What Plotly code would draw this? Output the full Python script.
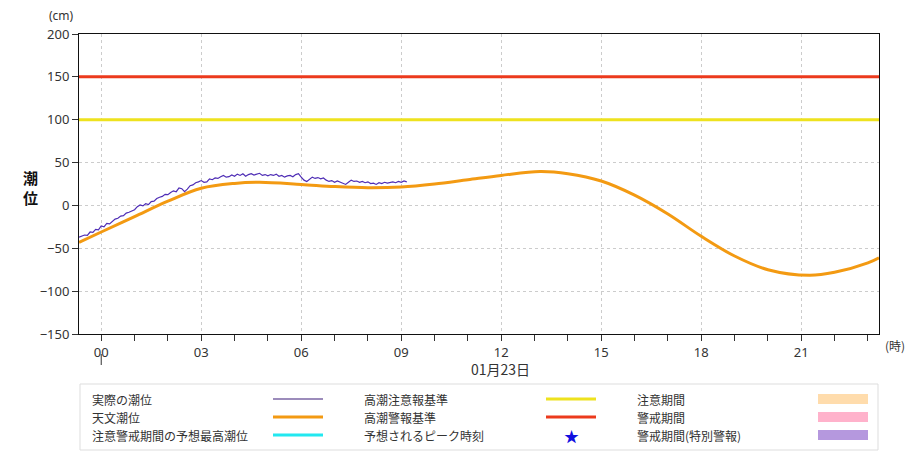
import plotly.graph_objects as go
import pandas as pd

# ---------------- data ----------------
# observed tide (cm), every 5 minutes from 2025-01-22 23:20
obs_start = "2025-01-22 23:20"
obs_cm = [
    -37, -36, -34.5, -35, -31, -31.5, -28, -28.5, -24, -25,
    -21, -21.5, -18.5, -16, -15, -12.5, -12, -9, -8, -6,
    -5, -1.5, 0.5, -0.5, 2, 1, 4.5, 5, 8, 9.5,
    10.5, 13, 12.5, 15, 17, 16, 20.5, 19.5, 16, 19,
    23, 24, 26.5, 27.5, 29, 27, 27.5, 31, 30, 32,
    31.5, 33.5, 35, 33, 33.5, 35.5, 34, 36.5, 35, 37,
    34, 36, 37, 35.5, 36.5, 37.5, 35, 36, 34.5, 36,
    35, 36.5, 34, 35, 33, 34.5, 35, 33.5, 36, 37,
    33, 29.5, 28, 31, 33, 31.5, 32.5, 31, 32, 29.5,
    28, 29, 27, 28.5, 27, 25.5, 24.5, 27, 29.5, 28,
    28.5, 27, 28, 26.5, 27.5, 25.5, 26, 24.5, 26.5, 25.5,
    27, 26, 26.5, 27.5, 26.5, 28, 27, 28.5, 27.5,
]

# astronomical tide (cm)
astro_time = [
    "2025-01-22 23:20", "2025-01-23 00:00", "2025-01-23 01:00", "2025-01-23 02:00",
    "2025-01-23 03:00", "2025-01-23 04:00", "2025-01-23 04:45", "2025-01-23 06:00",
    "2025-01-23 07:00", "2025-01-23 08:00", "2025-01-23 09:00", "2025-01-23 10:00",
    "2025-01-23 11:00", "2025-01-23 12:00", "2025-01-23 13:10", "2025-01-23 14:00",
    "2025-01-23 15:00", "2025-01-23 16:00", "2025-01-23 17:00", "2025-01-23 18:00",
    "2025-01-23 19:00", "2025-01-23 20:00", "2025-01-23 21:15", "2025-01-23 22:00",
    "2025-01-23 23:00", "2025-01-23 23:20",
]
astro_cm = [
    -43, -31, -13, 5,
    20, 25.7, 27, 24.5,
    22, 20.6, 21.5, 25,
    30, 35, 39.5, 37,
    28.5, 12, -10, -36,
    -59, -75, -81.5, -78,
    -67, -61,
]

x_start = "2025-01-22 23:20"
x_end = "2025-01-23 23:20"
caution_level = 100   # 高潮注意報基準
warning_level = 150   # 高潮警報基準

legend_rows = [
    ["実際の潮位", "高潮注意報基準", "注意期間"],
    ["天文潮位", "高潮警報基準", "警戒期間"],
    ["注意警戒期間の予想最高潮位", "予想されるピーク時刻", "警戒期間(特別警報)"],
]
date_label = "01月23日"

# ---------------- figure ----------------
obs_time = pd.date_range(obs_start, periods=len(obs_cm), freq="5min")

OBS_C = "#4e2db5"
OBS_LEG_C = "#3a1a78"
ASTRO_C = "#f39a12"
CAUTION_C = "#eee21e"
WARN_C = "#ec3a1c"
CYAN_C = "#22e8f0"
FONT = "Noto Sans CJK JP, sans-serif"
NUMFONT = "Noto Sans, sans-serif"
TXT = "#333333"

fig = go.Figure()
fig.add_trace(go.Scatter(x=[x_start, x_end], y=[warning_level] * 2, mode="lines",
                         line=dict(color=WARN_C, width=3), hoverinfo="skip"))
fig.add_trace(go.Scatter(x=[x_start, x_end], y=[caution_level] * 2, mode="lines",
                         line=dict(color=CAUTION_C, width=3), hoverinfo="skip"))
fig.add_trace(go.Scatter(x=astro_time, y=astro_cm, mode="lines",
                         line=dict(color=ASTRO_C, width=3, shape="spline", smoothing=1.0)))
fig.add_trace(go.Scatter(x=obs_time, y=obs_cm, mode="lines",
                         line=dict(color=OBS_C, width=1.2)))

L, R, T, B = 79, 34, 34, 129
W, H = 913, 463
PW, PH = W - L - R, H - T - B


def xp(px):
    return (px - L) / PW


def yp(py):
    return (T + PH - py) / PH


shapes = []
annots = []

# legend box
shapes.append(dict(type="rect", xref="paper", yref="paper",
                   x0=xp(80), x1=xp(878), y0=yp(384), y1=yp(450),
                   line=dict(color="#dddddd", width=1), fillcolor="white"))
row_y = [399, 417, 435]
col_text_x = [90, 362, 635]
samples_col1 = [(OBS_LEG_C, 1.2), (ASTRO_C, 3), (CYAN_C, 3)]
samples_col2 = [(CAUTION_C, 3), (WARN_C, 3), None]
patch_cols = ["#ffdcac", "#ffb2cb", "#b598de"]
for i, ry in enumerate(row_y):
    for j, txt in enumerate(legend_rows[i]):
        annots.append(dict(xref="paper", yref="paper", x=xp(col_text_x[j]), y=yp(ry),
                           text=txt, showarrow=False, xanchor="left", yanchor="middle",
                           font=dict(family=FONT, size=12, color=TXT)))
    c, w = samples_col1[i]
    shapes.append(dict(type="line", xref="paper", yref="paper", x0=xp(273), x1=xp(323),
                       y0=yp(ry), y1=yp(ry), line=dict(color=c, width=w)))
    if samples_col2[i] is not None:
        c, w = samples_col2[i]
        shapes.append(dict(type="line", xref="paper", yref="paper", x0=xp(546), x1=xp(596),
                           y0=yp(ry), y1=yp(ry), line=dict(color=c, width=w)))
    shapes.append(dict(type="rect", xref="paper", yref="paper", x0=xp(818), x1=xp(868),
                       y0=yp(ry - 5), y1=yp(ry + 5), line=dict(width=0),
                       fillcolor=patch_cols[i]))
annots.append(dict(xref="paper", yref="paper", x=xp(571), y=yp(435), text="★",
                   showarrow=False, xanchor="center", yanchor="middle",
                   font=dict(family=FONT, size=15, color="#1010e0")))

# axis labels
annots.append(dict(xref="paper", yref="paper", x=xp(61), y=yp(16), text="(cm)",
                   showarrow=False, xanchor="center", yanchor="middle",
                   font=dict(family=NUMFONT, size=12, color=TXT)))
annots.append(dict(xref="paper", yref="paper", x=xp(895), y=yp(345), text="(時)",
                   showarrow=False, xanchor="center", yanchor="middle",
                   font=dict(family=FONT, size=12, color=TXT)))
annots.append(dict(xref="paper", yref="paper", x=xp(30), y=yp(187), text="<b>潮<br>位</b>",
                   showarrow=False, xanchor="center", yanchor="middle",
                   font=dict(family=FONT, size=15, color="#111111")))
annots.append(dict(xref="paper", yref="paper", x=xp(500), y=yp(369), text=date_label,
                   showarrow=False, xanchor="center", yanchor="middle",
                   font=dict(family=FONT, size=14, color=TXT)))
# day marker under 00
shapes.append(dict(type="line", xref="x", yref="paper", x0="2025-01-23 00:00",
                   x1="2025-01-23 00:00", y0=yp(354), y1=yp(365),
                   line=dict(color="#333333", width=1)))

fig.update_layout(
    width=W, height=H,
    margin=dict(l=L, r=R, t=T, b=B),
    paper_bgcolor="white", plot_bgcolor="white",
    showlegend=False,
    shapes=shapes, annotations=annots,
    font=dict(family=FONT, size=13, color=TXT),
)
fig.update_xaxes(
    range=[x_start, x_end], type="date",
    tick0="2025-01-23 00:00", dtick=3 * 3600000, tickformat="%H",
    ticks="outside", ticklen=6, tickcolor="#333333",
    showline=True, linecolor="#111111", linewidth=1, mirror=True,
    showgrid=True, gridcolor="#cccccc", griddash="3px,3px",
    minor=dict(dtick=3600000, ticks="outside", ticklen=6, tickcolor="#333333", showgrid=False),
    tickfont=dict(family=NUMFONT, size=13, color=TXT),
    zeroline=False,
)
fig.update_yaxes(
    range=[-150, 200], dtick=50,
    ticks="outside", ticklen=6, tickcolor="#333333",
    showline=True, linecolor="#111111", linewidth=1, mirror=True,
    showgrid=True, gridcolor="#cccccc", griddash="3px,3px",
    tickfont=dict(family=NUMFONT, size=13, color=TXT),
    zeroline=False,
)

fig.write_html("out.html", config={"displayModeBar": False},
               post_script="document.body.style.margin='0';document.body.style.overflow='hidden';")
